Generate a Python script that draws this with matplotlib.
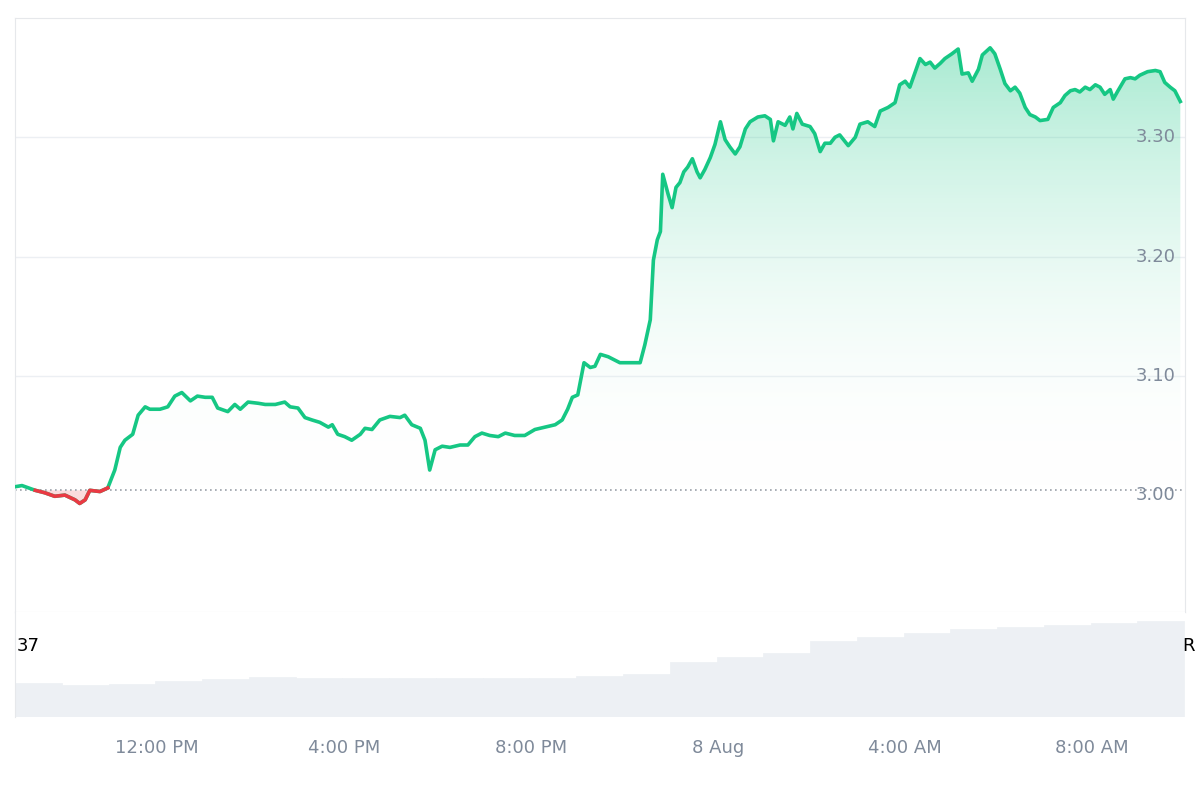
import numpy as np
import matplotlib
matplotlib.use("Agg")
import matplotlib.pyplot as plt
from matplotlib.colors import LinearSegmentedColormap

# minutes elapsed since 7 Aug 08:58
minutes = [0,9,26,38,51,64,77,83,90,96,109,119,128,135,141,151,158,167,173,186,196,205,214,225,234,244,253,260,273,282,289,299,312,321,334,346,353,363,372,381,391,402,407,414,423,432,443,449,458,468,481,494,500,509,520,526,532,539,548,558,571,581,590,599,609,620,629,641,654,667,680,693,702,709,715,722,730,738,744,751,761,770,776,789,802,808,815,819,824,828,831,838,843,848,853,858,863,869,875,879,885,892,898,905,911,917,924,930,937,943,953,962,969,973,979,988,994,998,1003,1010,1020,1026,1033,1039,1046,1052,1058,1069,1078,1084,1094,1103,1110,1120,1129,1135,1142,1148,1155,1161,1168,1174,1180,1187,1193,1202,1210,1215,1223,1228,1236,1241,1251,1257,1264,1270,1277,1283,1289,1296,1302,1309,1315,1325,1332,1341,1347,1354,1360,1366,1373,1379,1386,1392,1398,1405,1409,1415,1424,1431,1437,1443,1453,1463,1469,1475,1482,1488,1495]
prices = [3.007,3.008,3.004,3.002,2.999,3.000,2.996,2.993,2.996,3.004,3.003,3.006,3.021,3.040,3.046,3.051,3.067,3.074,3.072,3.072,3.074,3.083,3.086,3.079,3.083,3.082,3.082,3.073,3.070,3.076,3.072,3.078,3.077,3.076,3.076,3.078,3.074,3.073,3.065,3.063,3.061,3.057,3.059,3.051,3.049,3.046,3.051,3.056,3.055,3.063,3.066,3.065,3.067,3.059,3.056,3.046,3.021,3.038,3.041,3.040,3.042,3.042,3.049,3.052,3.050,3.049,3.052,3.050,3.050,3.055,3.057,3.059,3.063,3.072,3.082,3.084,3.111,3.107,3.108,3.118,3.116,3.113,3.111,3.111,3.111,3.126,3.147,3.197,3.214,3.221,3.269,3.252,3.241,3.258,3.262,3.271,3.275,3.282,3.271,3.266,3.273,3.283,3.294,3.313,3.298,3.292,3.286,3.292,3.307,3.313,3.317,3.318,3.315,3.297,3.313,3.310,3.317,3.307,3.320,3.311,3.309,3.303,3.288,3.295,3.295,3.300,3.302,3.293,3.300,3.311,3.313,3.309,3.322,3.325,3.329,3.344,3.347,3.342,3.355,3.366,3.361,3.363,3.358,3.362,3.366,3.370,3.374,3.353,3.354,3.347,3.357,3.369,3.375,3.370,3.357,3.345,3.339,3.342,3.337,3.325,3.319,3.317,3.314,3.315,3.325,3.329,3.335,3.339,3.340,3.338,3.342,3.340,3.344,3.342,3.336,3.340,3.332,3.339,3.349,3.350,3.349,3.352,3.355,3.356,3.355,3.346,3.342,3.339,3.330]
baseline = 3.004
vol_hours = list(range(25))
volumes = [34,32,33,36,38,40,39,39,39,39,39,39,41,43,55,60,64,76,80,84,88,90,92,94,96]
tick_minutes = [182,422,662,902,1142,1382]
tick_labels = ["12:00 PM","4:00 PM","8:00 PM","8 Aug","4:00 AM","8:00 AM"]
yticks = [3.00,3.10,3.20,3.30]

GREEN = "#16c784"; RED = "#ea3943"; GREY = "#7f8a9a"
t = np.array(minutes, float); p = np.array(prices)

fig = plt.figure(figsize=(12, 8), dpi=100)
ax = fig.add_axes([15/1200, 0.235, 1170/1200, 0.7425])
vax = fig.add_axes([15/1200, 83/800, 1170/1200, 0.235-83/800])
XMAX = 1501
ax.set_xlim(0, XMAX); ax.set_ylim(2.902, 3.40)

# gradient fill above baseline
poly = ax.fill_between(t, p, baseline, color="none", lw=0)
cmap = LinearSegmentedColormap.from_list("g", [(1, 1, 1, 0), (22/255, 199/255, 132/255, 0.38)])
grad = np.linspace(0, 1, 256).reshape(-1, 1)
im = ax.imshow(grad, extent=[0, XMAX, baseline, 3.38], origin="lower", aspect="auto",
               cmap=cmap, zorder=1, interpolation="bilinear")
im.set_clip_path(poly.get_paths()[0], transform=ax.transData)
ax.set_xlim(0, XMAX); ax.set_ylim(2.902, 3.40)
ax.fill_between(t, p, baseline, where=p < baseline, interpolate=True, color=RED, alpha=0.18, lw=0)

ax.plot(t, p, color=GREEN, lw=2.6, zorder=3, solid_joinstyle="round")
mask = p < baseline
red = np.full_like(p, np.nan)
for i in range(len(p)):
    if mask[i] or (i > 0 and mask[i-1]) or (i < len(p)-1 and mask[i+1]):
        red[i] = p[i]
ax.plot(t, red, color=RED, lw=2.6, zorder=4, solid_joinstyle="round")
ax.axhline(baseline, color="#9aa0a8", lw=1.2, ls=(0, (1, 2)), zorder=2)

for y in [3.10, 3.20, 3.30]:
    ax.axhline(y, color="#eceff3", lw=1, zorder=0)
ax.set_xticks([]); ax.set_yticks([])
for y in yticks:
    ax.text(XMAX - 12, y, f"{y:.2f}", ha="right", va="center", fontsize=13, color=GREY, zorder=5)
for s in ["left", "right", "top", "bottom"]:
    ax.spines[s].set_color("#e6e8eb")

# volume
vt = np.array(vol_hours) * 60 + 30
vax.bar(vt, volumes, width=60, color="#edf0f4", edgecolor="#edf0f4", lw=0.5)
vax.set_xlim(0, XMAX); vax.set_ylim(0, 105)
vax.set_yticks([])
vax.set_xticks(tick_minutes); vax.set_xticklabels(tick_labels, fontsize=13, color=GREY)
vax.tick_params(axis="x", length=0, pad=16)
for s in ["top", "right", "bottom"]:
    vax.spines[s].set_visible(False)
vax.spines["left"].set_color("#e6e8eb")
fig.text(17/1200, 1-646/800, "37", fontsize=13, color="black", va="center")
fig.text(1182/1200, 1-646/800, "R", fontsize=13, color="black", va="center")
fig.savefig("out.png")
